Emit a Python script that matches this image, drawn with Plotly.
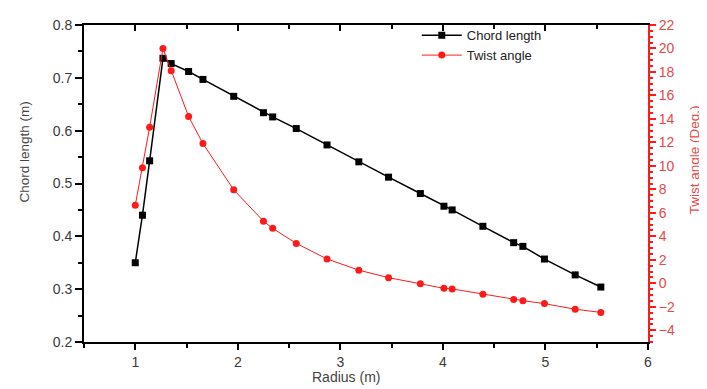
import plotly.graph_objects as go

# Data
radius = [1.00, 1.07, 1.14, 1.27, 1.35, 1.52, 1.66, 1.96, 2.25, 2.34, 2.57,
          2.87, 3.18, 3.47, 3.78, 4.01, 4.09, 4.39, 4.69, 4.78, 4.99, 5.29, 5.54]
chord_length = [0.350, 0.440, 0.543, 0.737, 0.727, 0.712, 0.697, 0.665, 0.634,
                0.626, 0.604, 0.573, 0.541, 0.512, 0.481, 0.457, 0.450, 0.419,
                0.388, 0.381, 0.357, 0.327, 0.304]
twist_angle = [6.65, 9.85, 13.3, 20.0, 18.1, 14.2, 11.9, 7.96, 5.29, 4.68, 3.40,
               2.07, 1.12, 0.48, -0.04, -0.43, -0.48, -0.93, -1.38, -1.48, -1.73,
               -2.21, -2.48]

series_names = ["Chord length", "Twist angle"]
x_title = "Radius (m)"
y_title = "Chord length (m)"
y2_title = "Twist angle (Deg.)"

FONT = "Liberation Sans, Arial, sans-serif"
RED = "#ff1a1a"

fig = go.Figure()
fig.add_trace(go.Scatter(
    x=radius, y=chord_length, name=series_names[0], mode="lines+markers",
    line=dict(color="black", width=1.5),
    marker=dict(symbol="square", size=7, color="black"),
    xaxis="x", yaxis="y"))
fig.add_trace(go.Scatter(
    x=radius, y=twist_angle, name=series_names[1], mode="lines+markers",
    line=dict(color=RED, width=1),
    marker=dict(symbol="circle", size=7, color=RED),
    xaxis="x2", yaxis="y2"))

# The page body has an 8px default margin, so the figure is sized to fit the window.
fig.update_layout(
    width=699, height=381,
    margin=dict(l=76, r=59, t=9, b=47),
    paper_bgcolor="white", plot_bgcolor="white",
    font=dict(family=FONT, size=14, color="#3a3a3a"),
    showlegend=True,
    legend=dict(x=0.59, y=1.015, xanchor="left", yanchor="top",
                bgcolor="rgba(0,0,0,0)", font=dict(size=13, color="#222"),
                tracegroupgap=0, itemwidth=40),
    xaxis=dict(range=[0.5, 6], tick0=1, dtick=1, showgrid=False, zeroline=False,
               showline=True, linecolor="black", linewidth=2,
               ticks="outside", ticklen=6, tickwidth=2, tickcolor="black",
               tickfont=dict(size=14, color="#3a3a3a"),
               minor=dict(dtick=0.5, ticks="outside", ticklen=4, tickwidth=1.5,
                          tickcolor="black")),
    xaxis2=dict(range=[0.5, 6], overlaying="x", side="top", anchor="y",
                tick0=1, dtick=1, showgrid=False, zeroline=False,
                showticklabels=False, showline=True, linecolor="black", linewidth=1.5,
                ticks="inside", ticklen=6, tickwidth=2, tickcolor="black",
                minor=dict(dtick=0.5, ticks="inside", ticklen=4, tickwidth=1.5,
                           tickcolor="black")),
    yaxis=dict(range=[0.2, 0.8], tick0=0.2, dtick=0.1, tickformat=".1f",
               showgrid=False, zeroline=False,
               showline=True, linecolor="black", linewidth=2,
               ticks="outside", ticklen=7, tickwidth=2, tickcolor="black",
               tickfont=dict(size=14, color="#3a3a3a"),
               minor=dict(dtick=0.05, ticks="outside", ticklen=4, tickwidth=1.5,
                          tickcolor="black")),
    yaxis2=dict(range=[-5, 22], overlaying="y", side="right", anchor="x2",
                tick0=0, dtick=2, showgrid=False, zeroline=False,
                showline=True, linecolor=RED, linewidth=2,
                ticks="outside", ticklen=6, tickwidth=2, tickcolor=RED,
                tickfont=dict(size=14, color="#e84848"),
                minor=dict(dtick=0.5, ticks="outside", ticklen=3, tickwidth=1.5,
                           tickcolor=RED)),
    annotations=[
        dict(text=x_title, xref="paper", yref="paper", x=0.4645, y=-0.111,
             xanchor="center", yanchor="middle", showarrow=False,
             font=dict(size=14, color="#444")),
        dict(text=y_title, xref="paper", yref="paper", x=-0.1064, y=0.601,
             xanchor="center", yanchor="middle", showarrow=False, textangle=-90,
             font=dict(size=13.5, color="#444")),
        dict(text=y2_title, xref="paper", yref="paper", x=1.0814, y=0.576,
             xanchor="center", yanchor="middle", showarrow=False, textangle=-90,
             font=dict(size=13.5, color="#e84848")),
    ],
)

fig.write_html("out.html")
